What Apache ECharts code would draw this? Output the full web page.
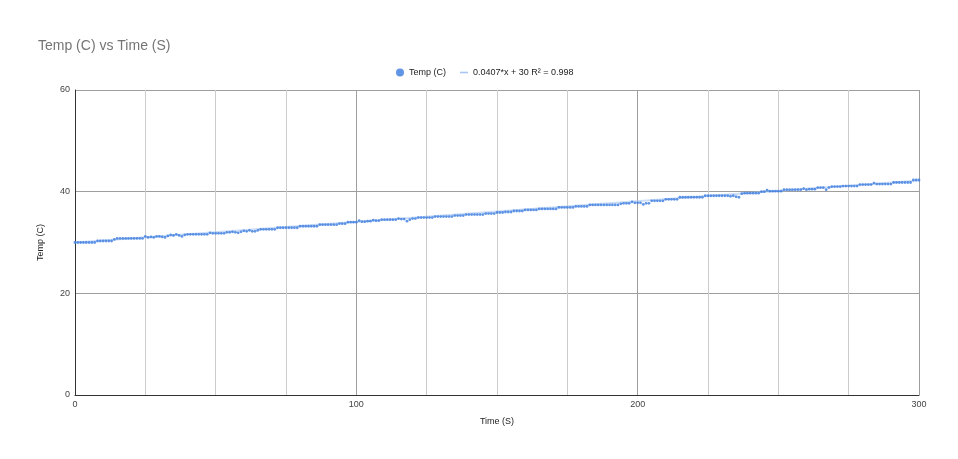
<!DOCTYPE html>
<html>
<head>
<meta charset="utf-8">
<script src="https://cdn.jsdelivr.net/npm/echarts@6/dist/echarts.min.js"></script>
<style>html,body{margin:0;padding:0;background:#fff}#c{width:958px;height:459px}</style>
</head>
<body>
<div id="c"></div>
<script>
const titleText = 'Temp (C) vs Time (S)';
const seriesName = 'Temp (C)';
const trendName = '0.0407*x + 30 R\u00b2 = 0.998';
const xAxisName = 'Time (S)';
const yAxisName = 'Temp (C)';
const sampleInterval = 1; // seconds between readings
const temps = [
  30.0,30.0,30.0,30.0,30.0,30.0,30.0,30.0,30.3,30.3,
  30.3,30.3,30.3,30.3,30.6,30.8,30.8,30.8,30.8,30.8,
  30.8,30.8,30.8,30.8,30.8,31.2,31.0,31.1,31.0,31.2,
  31.2,31.1,31.0,31.3,31.5,31.4,31.6,31.4,31.2,31.5,
  31.6,31.6,31.6,31.6,31.6,31.6,31.6,31.6,31.9,31.8,
  31.8,31.8,31.8,31.8,32.0,32.0,32.1,32.0,31.9,32.1,
  32.3,32.2,32.4,32.2,32.2,32.4,32.6,32.6,32.6,32.6,
  32.6,32.6,32.9,32.9,32.9,32.9,32.9,32.9,32.9,32.9,
  33.2,33.2,33.2,33.2,33.2,33.2,33.2,33.5,33.5,33.5,
  33.5,33.5,33.5,33.5,33.7,33.7,33.7,34.0,34.0,34.0,
  34.0,34.3,34.1,34.1,34.2,34.2,34.4,34.3,34.3,34.5,
  34.5,34.5,34.5,34.5,34.5,34.7,34.6,34.6,34.2,34.5,
  34.7,34.7,34.9,34.9,34.9,34.9,34.9,34.9,35.1,35.1,
  35.1,35.1,35.1,35.1,35.1,35.3,35.3,35.3,35.3,35.5,
  35.5,35.5,35.5,35.5,35.5,35.5,35.7,35.7,35.7,35.7,
  35.9,35.9,35.9,36.0,36.0,36.0,36.2,36.2,36.2,36.2,
  36.4,36.4,36.4,36.4,36.4,36.6,36.6,36.6,36.6,36.6,
  36.6,36.6,36.9,36.9,36.9,36.9,36.9,36.9,37.1,37.1,
  37.1,37.1,37.1,37.4,37.4,37.4,37.4,37.4,37.4,37.4,
  37.4,37.4,37.4,37.4,37.6,37.7,37.7,37.7,38.0,37.8,
  37.8,37.8,37.5,37.7,37.7,38.2,38.2,38.2,38.2,38.2,
  38.5,38.5,38.5,38.5,38.5,38.9,38.9,38.9,38.9,38.9,
  38.9,38.9,38.9,38.9,39.2,39.2,39.2,39.2,39.2,39.2,
  39.2,39.2,39.2,39.1,39.2,39.0,38.9,39.6,39.7,39.7,
  39.7,39.7,39.7,39.7,40.0,40.0,40.3,40.1,40.1,40.1,
  40.1,40.1,40.4,40.4,40.4,40.4,40.4,40.4,40.4,40.6,
  40.4,40.5,40.5,40.5,40.8,40.8,40.8,40.4,40.8,41.0,
  41.0,41.0,41.0,41.1,41.1,41.1,41.1,41.1,41.1,41.4,
  41.4,41.4,41.4,41.4,41.7,41.5,41.5,41.5,41.5,41.5,
  41.5,41.8,41.8,41.8,41.8,41.8,41.8,41.8,42.3,42.3,
  42.3
];
const trendSlope = 0.0407;
const trendIntercept = 30;
const xTicks = [0, 100, 200, 300];
const yTicks = [0, 20, 40, 60];

const points = temps.map((v, i) => [i * sampleInterval, v]);
const tEnd = (temps.length - 1) * sampleInterval;
const trendPts = [[0, trendIntercept], [tEnd, trendIntercept + trendSlope * tEnd]];

const font = '"Liberation Sans", Arial, sans-serif';
const chart = echarts.init(document.getElementById('c'), null, {renderer: 'canvas'});
chart.setOption({
  animation: false,
  backgroundColor: '#fff',
  title: {
    text: titleText, left: 33, top: 34,
    textStyle: {fontFamily: font, fontSize: 14, fontWeight: 'normal', color: '#757575'}
  },
  legend: {
    top: 63, left: 391, itemWidth: 8, itemHeight: 8, itemGap: 14,
    textStyle: {fontFamily: font, fontSize: 9, color: '#222'},
    data: [
      {name: seriesName, icon: 'circle'},
      {name: trendName, icon: 'path://M0,0h8v1.6h-8z', itemStyle: {color: '#a9c6f2'}}
    ]
  },
  grid: {left: 75, right: 39, top: 90, bottom: 64, containLabel: false},
  xAxis: {
    type: 'value', min: xTicks[0], max: xTicks[xTicks.length - 1], interval: 100,
    name: xAxisName, nameLocation: 'middle', nameGap: 22,
    nameTextStyle: {fontFamily: font, fontSize: 9, color: '#222'},
    axisLine: {show: true, onZero: false, lineStyle: {color: '#333', width: 1}},
    axisTick: {show: false},
    axisLabel: {fontFamily: font, fontSize: 9, color: '#444', margin: 5},
    splitLine: {show: true, lineStyle: {color: '#9e9e9e', width: 1}},
    minorTick: {show: false, splitNumber: 4},
    minorSplitLine: {show: true, lineStyle: {color: '#cccccc', width: 1}}
  },
  yAxis: {
    type: 'value', min: yTicks[0], max: yTicks[yTicks.length - 1], interval: 20,
    name: yAxisName, nameLocation: 'middle', nameGap: 30, nameRotate: 90,
    nameTextStyle: {fontFamily: font, fontSize: 9, color: '#222'},
    axisLine: {show: true, lineStyle: {color: '#333', width: 1}},
    axisTick: {show: false},
    axisLabel: {fontFamily: font, fontSize: 9, color: '#444', margin: 5},
    splitLine: {show: true, lineStyle: {color: '#9e9e9e', width: 1}}
  },
  series: [
    {
      name: seriesName, type: 'scatter', data: points, symbol: 'circle', symbolSize: 2.8,
      itemStyle: {color: '#3a7ade'}, z: 3
    },
    {
      name: trendName, type: 'line', data: trendPts, symbol: 'none', showSymbol: false,
      lineStyle: {color: '#a9c6f2', width: 2, opacity: 0.6},
      itemStyle: {color: '#a9c6f2'}, z: 2
    }
  ]
});
</script>
</body>
</html>
